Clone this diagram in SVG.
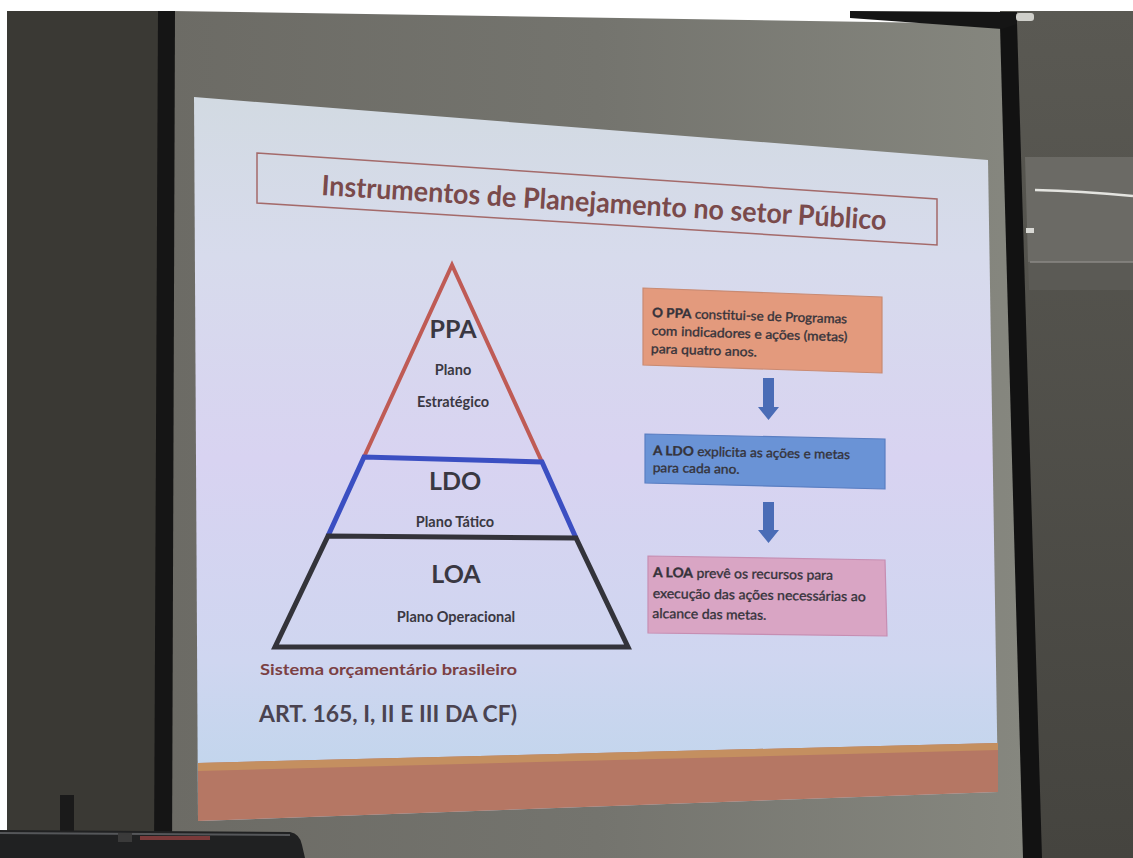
<svg xmlns="http://www.w3.org/2000/svg" width="1133" height="858" viewBox="0 0 1133 858">
<defs>
<linearGradient id="slideGrad" x1="0" y1="0" x2="0" y2="1">
<stop offset="0" stop-color="#d2dae2"/>
<stop offset="0.22" stop-color="#d7dbec"/>
<stop offset="0.5" stop-color="#d8d3f1"/>
<stop offset="0.78" stop-color="#cfd6f0"/>
<stop offset="1" stop-color="#bcd5eb"/>
</linearGradient>
<linearGradient id="screenGrad" x1="0" y1="0" x2="1" y2="0">
<stop offset="0" stop-color="#6c6b65"/>
<stop offset="0.5" stop-color="#74746e"/>
<stop offset="1" stop-color="#86877f"/>
</linearGradient>
<linearGradient id="wallR" x1="0" y1="0" x2="0" y2="1">
<stop offset="0" stop-color="#5a5953"/>
<stop offset="1" stop-color="#45443f"/>
</linearGradient>
</defs>
<style>
.txt{font-family:Lato,"Open Sans","Liberation Sans",sans-serif;fill:#35333b;stroke:#35333b;stroke-width:0.35}
.b{font-weight:bold}
.pyr{font-family:Lato,"Open Sans","Liberation Sans",sans-serif;font-weight:bold;fill:#3a3842;text-anchor:middle}
.box{stroke-width:1.2}
.arrow{fill:#4a6cb6}
</style>

<!-- background scene -->
<g id="scene">
<rect x="0" y="0" width="1133" height="858" fill="#ffffff"/>
<rect x="7" y="11" width="160" height="847" fill="#3a3934"/>
<rect x="1000" y="11" width="133" height="847" fill="url(#wallR)"/>
<polygon points="1025,157 1133,157 1133,262 1028,262" fill="#6b6a65"/>
<polygon points="1028,262 1133,262 1133,290 1029,290" fill="#5b5a55"/>
<line x1="1030" y1="262" x2="1133" y2="262" stroke="#8a8984" stroke-width="1.5"/>
<path d="M1035,190 Q1080,191 1133,196" stroke="#e4e4e0" stroke-width="2.5" fill="none"/>
<rect x="1026" y="228" width="8" height="5" fill="#d8d8d4"/>
<polygon points="172,11 1003,24 1025,858 170,858" fill="url(#screenGrad)"/>
<polygon points="158,11 175,11 172,858 154,858" fill="#151515"/>
<polygon points="1000,26 1017,22 1042,858 1023,858" fill="#121212"/>
<polygon points="850,11 1017,12 1017,24 1002,29 850,18" fill="#151515"/>
<rect x="1016" y="13" width="18" height="8" rx="3" fill="#cfcfca"/>
</g>

<!-- slide -->
<g id="slide">
<polygon points="194,97 988,160 998,792 198,821" fill="url(#slideGrad)"/>
<polygon points="198,763 998,743 998,792 198,821" fill="#b57764"/>
<polygon points="198,763 998,743 998,750 198,771" fill="#c48f60"/>
</g>

<!-- title -->
<g id="title">
<polygon points="257,153 937,199 937,245 257,203" fill="none" stroke="#a46a6a" stroke-width="1.5"/>
<text x="321" y="195" transform="rotate(3.55 321 195)" font-family="Lato,'Open Sans','Liberation Sans',sans-serif" font-weight="bold" font-size="28" fill="#7a4a4b" textLength="566" lengthAdjust="spacingAndGlyphs">Instrumentos de Planejamento no setor Público</text>
</g>

<!-- pyramid -->
<g id="ppa">
<polyline points="364,457 452,265 542,462" fill="none" stroke="#bf5b55" stroke-width="4"/>
<text class="pyr" x="453" y="338" font-size="25">PPA</text>
<text class="pyr" x="453" y="375" font-size="14.5">Plano</text>
<text class="pyr" x="453" y="407" font-size="14.5">Estratégico</text>
</g>
<g id="ldo">
<polyline points="328,536 364,457 542,462 576,538" fill="none" stroke="#3b4fc2" stroke-width="5"/>
<text class="pyr" x="455" y="490" font-size="25">LDO</text>
<text class="pyr" x="455" y="527" font-size="14.5">Plano Tático</text>
</g>
<g id="loa">
<polygon points="328,536 576,538 628,647 275,647" fill="none" stroke="#33333a" stroke-width="5"/>
<text class="pyr" x="456" y="583" font-size="25">LOA</text>
<text class="pyr" x="456" y="622" font-size="14.5">Plano Operacional</text>
</g>

<!-- text boxes -->
<g id="box-ppa">
<polygon class="box" points="643,288 882,297 882,373 643,365" fill="#e39a7d" stroke="#c98a72"/>
<g transform="rotate(1.9 652 317)">
<text class="txt" x="652" y="317" font-size="13" textLength="195" lengthAdjust="spacingAndGlyphs"><tspan class="b">O PPA</tspan> constitui-se de Programas</text>
<text class="txt" x="652" y="335" font-size="13" textLength="196" lengthAdjust="spacingAndGlyphs">com indicadores e ações (metas)</text>
<text class="txt" x="652" y="353" font-size="13" textLength="106" lengthAdjust="spacingAndGlyphs">para quatro anos.</text>
</g>
</g>
<g id="box-ldo">
<polygon class="box" points="645,434 885,439 885,489 645,483" fill="#6a93d6" stroke="#5a7ec2"/>
<g transform="rotate(1.2 653 455)">
<text class="txt" x="653" y="455" font-size="13" textLength="197" lengthAdjust="spacingAndGlyphs"><tspan class="b">A LDO</tspan> explicita as ações e metas</text>
<text class="txt" x="653" y="472" font-size="13" textLength="87" lengthAdjust="spacingAndGlyphs">para cada ano.</text>
</g>
</g>
<g id="box-loa">
<polygon class="box" points="648,556 885,560 887,636 648,633" fill="#d9a5c4" stroke="#c68eb2"/>
<g transform="rotate(0.9 653 577)">
<text class="txt" x="653" y="577" font-size="13.5" textLength="180" lengthAdjust="spacingAndGlyphs"><tspan class="b">A LOA</tspan> prevê os recursos para</text>
<text class="txt" x="653" y="598" font-size="13.5" textLength="213" lengthAdjust="spacingAndGlyphs">execução das ações necessárias ao</text>
<text class="txt" x="653" y="618" font-size="13.5" textLength="114" lengthAdjust="spacingAndGlyphs">alcance das metas.</text>
</g>
</g>

<!-- connectors -->
<g id="connectors">
<polygon class="arrow" points="763,378 774,378 774,407 779,407 768.5,420 758,407 763,407"/>
<polygon class="arrow" points="763,502 774,502 774,530 779,530 768.5,543 758,530 763,530"/>
</g>

<!-- footer texts -->
<g id="footer">
<text x="260" y="675" font-family="Lato,'Open Sans','Liberation Sans',sans-serif" font-weight="bold" font-size="16" fill="#7b4043" textLength="257" lengthAdjust="spacingAndGlyphs">Sistema orçamentário brasileiro</text>
<text x="259" y="722" font-family="Lato,'Open Sans','Liberation Sans',sans-serif" font-weight="bold" font-size="23" fill="#4a4350" textLength="258" lengthAdjust="spacingAndGlyphs">ART. 165, I, II E III DA CF)</text>
</g>

<!-- foreground device -->
<g id="device">
<rect x="60" y="795" width="14" height="40" fill="#1a1a1a"/>
<path d="M0,830 L290,832 Q300,834 302,845 L305,858 L0,858 Z" fill="#202122"/>
<path d="M0,833 L290,835" stroke="#55575a" stroke-width="2" fill="none"/>
<rect x="118" y="833" width="14" height="9" fill="#3a3a3a"/>
<rect x="140" y="836" width="70" height="4" fill="#7a3a3a"/>
</g>
</svg>
